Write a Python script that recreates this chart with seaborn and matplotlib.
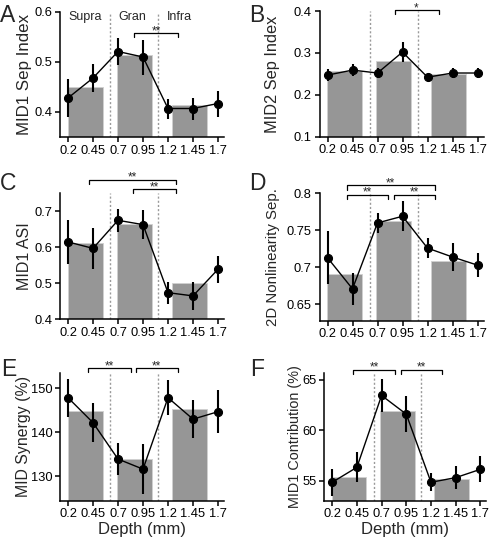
import numpy as np
import pandas as pd
import matplotlib
matplotlib.use("Agg")
import matplotlib.pyplot as plt
import seaborn as sns

# ---------------- data ----------------
depths = [0.2, 0.45, 0.7, 0.95, 1.2, 1.45, 1.7]
xtick_labels = ["0.2", "0.45", "0.7", "0.95", "1.2", "1.45", "1.7"]
layer_names = ["Supra", "Gran", "Infra"]
layer_centers = [0.37, 0.86, 1.41]
layer_bounds = [0.62, 1.10]

A_mean = [0.428, 0.468, 0.521, 0.510, 0.407, 0.407, 0.417]
A_sem = [0.038, 0.028, 0.027, 0.035, 0.020, 0.022, 0.026]
A_bar = [0.450, 0.515, 0.415]

B_mean = [0.247, 0.259, 0.252, 0.302, 0.242, 0.252, 0.252]
B_sem = [0.014, 0.015, 0.013, 0.024, 0.004, 0.012, 0.012]
B_bar = [0.256, 0.280, 0.249]

C_mean = [0.615, 0.597, 0.675, 0.663, 0.474, 0.465, 0.539]
C_sem = [0.061, 0.057, 0.032, 0.040, 0.031, 0.038, 0.037]
C_bar = [0.612, 0.666, 0.500]

D_mean = [0.713, 0.671, 0.760, 0.769, 0.726, 0.714, 0.703]
D_sem = [0.036, 0.022, 0.014, 0.020, 0.013, 0.019, 0.016]
D_bar = [0.691, 0.762, 0.709]

E_mean = [147.9, 142.2, 133.9, 131.6, 147.9, 143.0, 144.7]
E_sem = [4.3, 4.5, 3.6, 5.7, 4.0, 4.3, 4.9]
E_bar = [144.8, 133.9, 145.4]

F_mean = [54.87, 56.35, 63.45, 61.6, 54.87, 55.33, 56.15]
F_sem = [1.35, 1.5, 1.65, 1.8, 0.9, 1.15, 1.3]
F_bar = [55.36, 61.93, 55.2]

# significance brackets: (x0, x1, y, leg, label)
A_sig = [(0.86, 1.30, 0.558, 0.008, "**")]
B_sig = [(0.87, 1.31, 0.402, 0.009, "*")]
C_sig = [(0.41, 1.28, 0.788, 0.011, "**"), (0.85, 1.28, 0.761, 0.011, "**")]
D_sig = [(0.39, 0.80, 0.798, 0.006, "**"), (0.86, 1.27, 0.798, 0.006, "**"),
         (0.39, 1.27, 0.811, 0.006, "**")]
E_sig = [(0.40, 0.825, 154.7, 0.9, "**"), (0.875, 1.30, 154.7, 0.9, "**")]
F_sig = [(0.41, 0.84, 66.0, 0.4, "**"), (0.90, 1.31, 66.0, 0.4, "**")]

# ---------------- style ----------------
sns.set_theme(style="ticks")
plt.rcParams["font.family"] = ["Liberation Sans", "DejaVu Sans"]
plt.rcParams["axes.linewidth"] = 1.1
plt.rcParams["xtick.major.width"] = 1.1
plt.rcParams["ytick.major.width"] = 1.1
plt.rcParams["xtick.major.size"] = 3.5
plt.rcParams["ytick.major.size"] = 3.5
plt.rcParams["xtick.color"] = "black"
plt.rcParams["ytick.color"] = "black"
plt.rcParams["axes.edgecolor"] = "black"

W, H = 490, 538
fig = plt.figure(figsize=(W / 100, H / 100), dpi=100)


def make_ax(left, top, bottom, width=164):
    return fig.add_axes([left / W, (H - bottom) / H, width / W, (bottom - top) / H])


panels = [
    dict(ax=make_ax(60, 12, 137), mean=A_mean, sem=A_sem, bar=A_bar, sig=A_sig,
         ylim=(0.35, 0.6), yticks=[0.4, 0.5, 0.6], ylabels=["0.4", "0.5", "0.6"],
         ylabel="MID1 Sep Index", yfs=12.2, ylx=32, letter="A", lpos=(0, 15), xlabel=False),
    dict(ax=make_ax(319.5, 11, 136.7), mean=B_mean, sem=B_sem, bar=B_bar, sig=B_sig,
         ylim=(0.1, 0.4), yticks=[0.1, 0.2, 0.3, 0.4], ylabels=["0.1", "0.2", "0.3", "0.4"],
         ylabel="MID2 Sep Index", yfs=11.8, ylx=280, letter="B", lpos=(249, 15), xlabel=False),
    dict(ax=make_ax(60, 193.3, 319.3), mean=C_mean, sem=C_sem, bar=C_bar, sig=C_sig,
         ylim=(0.4, 0.75), yticks=[0.4, 0.5, 0.6, 0.7], ylabels=["0.4", "0.5", "0.6", "0.7"],
         ylabel="MID1 ASI", yfs=11.5, ylx=32, letter="C", lpos=(0, 183), xlabel=False),
    dict(ax=make_ax(319.5, 193.3, 320.7), mean=D_mean, sem=D_sem, bar=D_bar, sig=D_sig,
         ylim=(0.628, 0.8), yticks=[0.65, 0.7, 0.75, 0.8], ylabels=["0.65", "0.7", "0.75", "0.8"],
         ylabel="2D Nonlinearity Sep.", yfs=10.8, ylx=280, letter="D", lpos=(249, 183), xlabel=False),
    dict(ax=make_ax(60, 372.7, 500.7), mean=E_mean, sem=E_sem, bar=E_bar, sig=E_sig,
         ylim=(124.4, 153.6), yticks=[130, 140, 150], ylabels=["130", "140", "150"],
         ylabel="MID Synergy (%)", yfs=11.4, ylx=31, letter="E", lpos=(1, 370), xlabel=True),
    dict(ax=make_ax(324.3, 372.7, 500.7, width=162), mean=F_mean, sem=F_sem, bar=F_bar, sig=F_sig,
         ylim=(53.05, 65.7), yticks=[55, 60, 65], ylabels=["55", "60", "65"],
         ylabel="MID1 Contribution (%)", yfs=10.4, ylx=302, letter="F", lpos=(250, 370), xlabel=True),
]

gap = float(np.min(np.diff(layer_centers)))
bar_w = 0.35 / gap

for p in panels:
    ax = p["ax"]
    bars_df = pd.DataFrame({"pos": layer_centers, "val": p["bar"], "layer": layer_names})
    sns.barplot(data=bars_df, x="pos", y="val", native_scale=True, width=bar_w,
                color="#969696", saturation=1, errorbar=None, ax=ax,
                edgecolor="#d0d0d0", linewidth=0.6, zorder=1)
    for xb in layer_bounds:
        ax.axvline(xb, color="#9a9a9a", ls=(0, (1.5, 1.5)), lw=1.0, zorder=0.5)
    line_df = pd.DataFrame({"depth": depths, "val": p["mean"]})
    ax.errorbar(depths, p["mean"], yerr=p["sem"], fmt="none", ecolor="black",
                elinewidth=1.5, capsize=0, zorder=3)
    sns.lineplot(data=line_df, x="depth", y="val", color="black", lw=1.0,
                 marker="o", markersize=5.8, markeredgecolor="black", ax=ax, zorder=4)
    ax.set_xlim(0.12, 1.76)
    ax.set_ylim(*p["ylim"])
    ax.set_xticks(depths)
    ax.set_xticklabels(xtick_labels, fontsize=9.3)
    ax.set_yticks(p["yticks"])
    ax.set_yticklabels(p["ylabels"], fontsize=9.3)
    ax.tick_params(axis="both", pad=2)
    ax.set_ylabel(p["ylabel"], fontsize=p["yfs"])
    pos = ax.get_position()
    ax.yaxis.set_label_coords((p["ylx"] / W - pos.x0) / pos.width, 0.5)
    ax.set_xlabel("Depth (mm)" if p["xlabel"] else "", fontsize=12, labelpad=1)
    sns.despine(ax=ax)
    ax.patch.set_alpha(0)
    for x0, x1, y, leg, lab in p["sig"]:
        ax.plot([x0, x0, x1, x1], [y - leg, y, y, y - leg], color="black", lw=0.9,
                clip_on=False, zorder=5)
        ax.annotate(lab, ((x0 + x1) / 2, y), xytext=(0, -0.8), textcoords="offset points",
                    ha="center", va="baseline", fontsize=8.5, annotation_clip=False)
    fig.text(p["lpos"][0] / W, 1 - p["lpos"][1] / H, p["letter"], fontsize=16.5,
             ha="left", va="center")

axA = panels[0]["ax"]
for name, xc in zip(layer_names, [0.374, 0.844, 1.317]):
    axA.text(xc, 0.590, name, ha="center", va="center", fontsize=9)

fig.savefig("out.png", dpi=100)
